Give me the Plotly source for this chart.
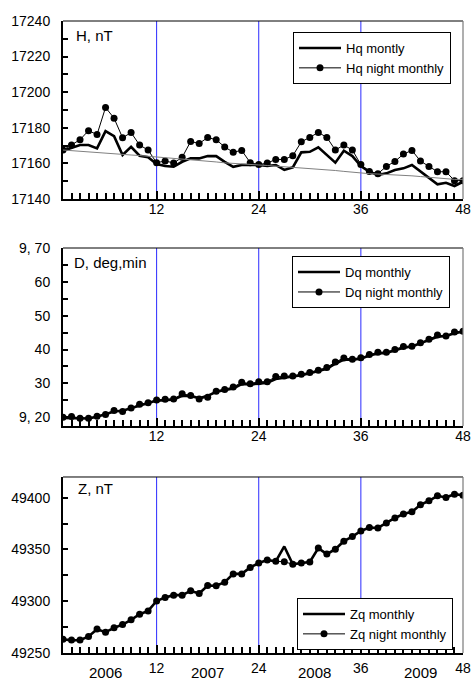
import plotly.graph_objects as go

months = list(range(1, 49))

h_monthly = [17167.1, 17168.8, 17170.3, 17170.3, 17168.4, 17178.1, 17175.3, 17164.7, 17169.3, 17164.3, 17163.4, 17159.6,
             17158.5, 17158.1, 17160.9, 17162.8, 17162.8, 17164.1, 17164.1, 17160.9, 17158.1, 17159.1, 17159.1, 17159.1,
             17158.5, 17159.1, 17156.3, 17157.8, 17166.2, 17166.5, 17169.0, 17164.7, 17160.4, 17167.1, 17164.1, 17158.5,
             17155.3, 17153.5, 17154.4, 17156.3, 17157.2, 17159.1, 17155.3, 17151.6, 17148.2, 17149.1, 17147.3, 17149.7]
h_night = [17167.5, 17170.3, 17173.3, 17178.4, 17176.2, 17191.4, 17185.4, 17174.4, 17177.3, 17170.3, 17167.5, 17160.3,
           17161.4, 17160.2, 17163.4, 17172.3, 17171.2, 17174.5, 17173.3, 17169.2, 17166.3, 17167.3, 17160.4, 17159.3,
           17160.2, 17162.2, 17162.2, 17164.3, 17172.1, 17174.6, 17177.4, 17174.6, 17167.5, 17170.3, 17167.5, 17159.3,
           17155.5, 17154.2, 17158.3, 17161.1, 17165.2, 17167.3, 17161.3, 17158.3, 17155.3, 17155.3, 17150.3, 17150.3]
h_trend = [17167.5, 17167.1, 17166.8, 17166.4, 17166.1, 17165.7, 17165.4, 17165.0, 17164.7, 17164.4, 17164.0, 17163.7,
           17163.5, 17163.2, 17162.6, 17162.1, 17161.7, 17161.2, 17160.8, 17160.3, 17159.9, 17159.6, 17159.3, 17159.1,
           17158.8, 17158.5, 17158.1, 17157.8, 17157.6, 17157.3, 17156.9, 17156.4, 17156.0, 17155.5, 17155.0, 17154.4,
           17154.2, 17154.0, 17153.8, 17153.7, 17153.5, 17153.0, 17152.6, 17152.1, 17151.7, 17151.4, 17151.0, 17151.0]

d_monthly = [19.8, 19.8, 19.6, 19.6, 20.1, 20.8, 21.7, 21.9, 22.6, 23.4, 24.1, 24.9,
             25.0, 25.2, 26.3, 26.3, 25.6, 26.3, 27.5, 28.0, 28.5, 29.8, 29.7, 29.9,
             30.2, 31.3, 31.6, 31.9, 32.4, 33.0, 33.6, 34.3, 35.8, 37.0, 37.0, 37.3,
             38.2, 38.8, 39.0, 39.7, 40.5, 40.9, 41.8, 42.7, 43.8, 44.0, 44.8, 45.3]
d_night = [20.0, 20.2, 19.7, 19.7, 20.3, 20.8, 22.0, 21.7, 22.7, 23.8, 24.3, 25.1,
           25.3, 25.4, 26.9, 26.4, 25.4, 25.9, 27.7, 28.2, 28.9, 30.3, 29.9, 30.5,
           30.5, 32.0, 32.2, 32.2, 32.7, 33.2, 33.9, 34.7, 36.3, 37.5, 37.1, 37.6,
           38.5, 39.2, 39.2, 40.0, 40.9, 41.0, 42.0, 43.0, 44.3, 44.0, 45.2, 45.4]

z_monthly = [49263.2, 49262.3, 49262.3, 49266.0, 49273.0, 49270.1, 49274.3, 49277.5, 49282.0, 49287.4, 49290.6, 49300.2,
             49303.7, 49305.9, 49305.9, 49310.1, 49307.5, 49315.2, 49314.9, 49318.4, 49326.4, 49326.4, 49332.7, 49336.9,
             49339.8, 49338.5, 49352.9, 49335.6, 49336.9, 49337.9, 49351.3, 49345.5, 49350.3, 49358.0, 49362.5, 49367.9,
             49371.1, 49370.8, 49375.6, 49380.4, 49384.2, 49386.4, 49393.1, 49397.0, 49401.8, 49400.2, 49403.4, 49402.4]
z_night = [49263.4, 49262.5, 49262.5, 49266.0, 49273.3, 49270.1, 49274.3, 49277.5, 49282.0, 49287.4, 49290.6, 49300.2,
           49303.7, 49305.9, 49305.9, 49310.1, 49307.5, 49315.2, 49314.9, 49318.4, 49326.4, 49326.4, 49332.7, 49336.9,
           49339.8, 49338.5, 49338.2, 49335.6, 49336.9, 49337.9, 49351.3, 49345.5, 49350.3, 49358.0, 49362.5, 49367.9,
           49371.1, 49370.8, 49375.6, 49380.4, 49384.2, 49386.4, 49393.1, 49397.0, 49401.8, 49400.2, 49403.4, 49402.4]

x_tick_vals = [12, 24, 36, 48]
x_tick_text = ["12", "24", "36", "48"]
year_labels = ["2006", "2007", "2008", "2009"]
year_x = [6, 18, 30.5, 43]
year_boundaries = [12, 24, 36]

h_ticks = [17140, 17160, 17180, 17200, 17220, 17240]
d_ticks = [20, 30, 40, 50, 60, 70]
d_tick_text = ["9, 20", "30", "40", "50", "60", "9, 70"]
z_ticks = [49250, 49300, 49350, 49400]

FONT = "Liberation Sans, Arial, sans-serif"

fig = go.Figure()


def add_panel(n, monthly, night, name_m, name_n, legend):
    xa = "x" if n == 1 else f"x{n}"
    ya = "y" if n == 1 else f"y{n}"
    fig.add_trace(go.Scatter(x=months, y=monthly, mode="lines", name=name_m,
                             line=dict(color="black", width=2.6), xaxis=xa, yaxis=ya,
                             legend=legend))
    fig.add_trace(go.Scatter(x=months, y=night, mode="lines+markers", name=name_n,
                             line=dict(color="black", width=1),
                             marker=dict(color="black", size=7, symbol="circle"),
                             xaxis=xa, yaxis=ya, legend=legend))


add_panel(1, h_monthly, h_night, "Hq montly", "Hq night monthly", "legend")
fig.add_trace(go.Scatter(x=months, y=h_trend, mode="lines", showlegend=False,
                         line=dict(color="#808080", width=1), xaxis="x", yaxis="y"))
add_panel(2, d_monthly, d_night, "Dq monthly", "Dq night monthly", "legend2")
add_panel(3, z_monthly, z_night, "Zq monthly", "Zq night monthly", "legend3")


def xaxis_cfg(anchor, standoff):
    return dict(anchor=anchor, domain=[0, 1], range=[1, 48], automargin=False,
                tickmode="array", tickvals=x_tick_vals, ticktext=x_tick_text,
                ticks="inside", ticklen=8, tickwidth=1.5, tickcolor="black",
                ticklabelstandoff=standoff,
                showline=True, linecolor="black", linewidth=2,
                showgrid=False, zeroline=False,
                tickfont=dict(size=14, color="black"),
                minor=dict(ticks="inside", ticklen=6, tickwidth=1.5, tickcolor="black",
                           tickmode="linear", tick0=0, dtick=1, showgrid=False))


def yaxis_cfg(anchor, domain, rng, tickvals, ticktext, minor_dtick, minor_tick0):
    return dict(anchor=anchor, domain=domain, range=rng, automargin=False,
                tickmode="array", tickvals=tickvals, ticktext=ticktext,
                ticks="inside", ticklen=5, tickwidth=1.5, tickcolor="black",
                ticklabelstandoff=8,
                showline=True, linecolor="black", linewidth=2,
                showgrid=False, zeroline=False,
                tickfont=dict(size=14, color="black"),
                minor=dict(ticks="inside", ticklen=5, tickwidth=1.5, tickcolor="black",
                           tickmode="linear", tick0=minor_tick0, dtick=minor_dtick, showgrid=False))


legend_common = dict(bgcolor="white", bordercolor="black", borderwidth=1,
                     font=dict(size=13, color="black", family=FONT),
                     xanchor="right", yanchor="top", tracegroupgap=0,
                     itemwidth=42)

shapes = []
for ax in ["", "2", "3"]:
    xr = "x" + ax
    yr = "y" + ax
    for b in year_boundaries:
        shapes.append(dict(type="line", xref=xr, yref=f"{yr} domain", x0=b, x1=b, y0=0, y1=1,
                           line=dict(color="#2a2aff", width=1), layer="below"))
    shapes.append(dict(type="line", xref=f"{xr} domain", yref=f"{yr} domain", x0=0, x1=1, y0=1, y1=1,
                       line=dict(color="black", width=1)))
    shapes.append(dict(type="line", xref=f"{xr} domain", yref=f"{yr} domain", x0=1, x1=1, y0=0, y1=1,
                       line=dict(color="#7a7a7a", width=1.2)))

annotations = [
    dict(text="H, nT", xref="x domain", yref="y domain", x=0.0275, y=0.921,
         xanchor="left", yanchor="middle", showarrow=False, font=dict(size=15, family=FONT, color="black")),
    dict(text="D, deg,min", xref="x2 domain", yref="y2 domain", x=0.022, y=0.916,
         xanchor="left", yanchor="middle", showarrow=False, font=dict(size=15, family=FONT, color="black")),
    dict(text="Z, nT", xref="x3 domain", yref="y3 domain", x=0.032, y=0.932,
         xanchor="left", yanchor="middle", showarrow=False, font=dict(size=15, family=FONT, color="black")),
]
for lab, xp in zip(year_labels, year_x):
    annotations.append(dict(text=lab, xref="x3", yref="y3 domain", x=xp, y=0, yanchor="top",
                            yshift=-9, showarrow=False,
                            font=dict(size=15, family=FONT, color="black")))

fig.update_layout(
    width=473, height=682,
    margin=dict(l=63, r=10, t=21, b=29, autoexpand=False),
    paper_bgcolor="white", plot_bgcolor="white",
    font=dict(family=FONT, color="black", size=14),
    xaxis=xaxis_cfg("y", -4),
    yaxis=yaxis_cfg("x", [0.7184, 1.0], [17140, 17240], h_ticks, [str(v) for v in h_ticks], 10, 17140),
    xaxis2=xaxis_cfg("y2", -4),
    yaxis2=yaxis_cfg("x2", [0.3592, 0.6408], [17.4, 70], d_ticks, d_tick_text, 5, 20),
    xaxis3=xaxis_cfg("y3", 1),
    yaxis3=yaxis_cfg("x3", [0.0, 0.2785], [49250, 49420], z_ticks, [str(v) for v in z_ticks], 25, 49250),
    legend=dict(x=0.97, y=0.9826, **legend_common),
    legend2=dict(x=0.9675, y=0.628, **legend_common),
    legend3=dict(x=0.975, y=0.087, **legend_common),
    shapes=shapes,
    annotations=annotations,
    showlegend=True,
)

fig.write_html("out.html", config={"displayModeBar": False},
               post_script="document.body.style.margin='0';document.body.style.overflow='hidden';")
